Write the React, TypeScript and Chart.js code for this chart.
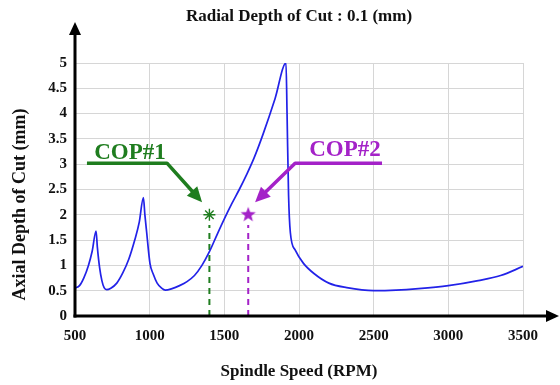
import React, { useEffect, useRef } from "react";
import { Chart, registerables } from "chart.js";
Chart.register(...registerables);

// ---- data ----
const spindleRpm = [
  500, 530, 560, 590, 615, 641, 650, 665, 680, 695, 712, 740, 780, 820, 860, 900, 930, 958,
  968, 980, 1002, 1025, 1050, 1080, 1105, 1150, 1200, 1250, 1300, 1350, 1400, 1450, 1500, 1550,
  1600, 1650, 1700, 1760, 1840, 1913, 1920, 1930, 1942, 1975, 2030, 2100, 2200, 2320, 2500,
  2650, 2800, 3000, 3200, 3350, 3500,
];
const axialDepth = [
  0.55, 0.6, 0.76, 1.0, 1.28, 1.68, 1.35, 0.95, 0.7, 0.56, 0.52, 0.55, 0.65, 0.85, 1.12, 1.5,
  1.85, 2.34, 2.0, 1.65, 1.04, 0.82, 0.65, 0.55, 0.51, 0.54, 0.6, 0.68, 0.8, 1.0, 1.27, 1.6,
  1.92, 2.22, 2.5, 2.8, 3.13, 3.6, 4.3, 5.0, 4.0, 2.4, 1.65, 1.3, 1.04, 0.84, 0.65, 0.56, 0.5,
  0.51, 0.54, 0.6, 0.7, 0.8, 0.98,
];
const xTickValues = [500, 1000, 1500, 2000, 2500, 3000, 3500];
const yTickValues = [0, 0.5, 1, 1.5, 2, 2.5, 3, 3.5, 4, 4.5, 5];

const cop1Point = { x: 1400, y: 2.0 };
const cop2Point = { x: 1660, y: 2.0 };
const cop1Dash = [{ x: 1400, y: 0 }, { x: 1400, y: 1.8 }];
const cop2Dash = [{ x: 1660, y: 0 }, { x: 1660, y: 1.8 }];

// annotation callouts in data units: label centre, elbow start, elbow, arrow tip
const cop1Callout = { text: "COP#1", label: [868, 3.22], start: [580, 3.02], elbow: [1116, 3.02], tip: [1351, 2.25] };
const cop2Callout = { text: "COP#2", label: [2308, 3.28], start: [2556, 3.02], elbow: [1974, 3.02], tip: [1706, 2.25] };

const BLUE = "#2222e8";
const GREEN = "#1f7d1f";
const PURPLE = "#a422c8";
const SERIF = "'Liberation Serif', 'DejaVu Serif', serif";

function makeStar(color: string, outer: number, inner: number): HTMLCanvasElement {
  const size = Math.ceil(outer * 2 + 2);
  const c = document.createElement("canvas");
  c.width = size;
  c.height = size;
  const g = c.getContext("2d")!;
  const cx = size / 2, cy = size / 2;
  g.beginPath();
  for (let i = 0; i < 10; i++) {
    const r = i % 2 === 0 ? outer : inner;
    const a = -Math.PI / 2 + (i * Math.PI) / 5;
    const px = cx + r * Math.cos(a), py = cy + r * Math.sin(a);
    if (i === 0) g.moveTo(px, py); else g.lineTo(px, py);
  }
  g.closePath();
  g.fillStyle = color;
  g.fill();
  return c;
}

function arrowHead(ctx: CanvasRenderingContext2D, fx: number, fy: number, tx: number, ty: number, len: number, half: number) {
  const a = Math.atan2(ty - fy, tx - fx);
  ctx.beginPath();
  ctx.moveTo(tx, ty);
  ctx.lineTo(tx - len * Math.cos(a) + half * Math.sin(a), ty - len * Math.sin(a) - half * Math.cos(a));
  ctx.lineTo(tx - len * Math.cos(a) - half * Math.sin(a), ty - len * Math.sin(a) + half * Math.cos(a));
  ctx.closePath();
  ctx.fill();
}

const decorPlugin = {
  id: "decor",
  afterDatasetsDraw(chart: any) {
    const ctx: CanvasRenderingContext2D = chart.ctx;
    const { left, right, top, bottom } = chart.chartArea;
    const xs = chart.scales.x, ys = chart.scales.y;
    ctx.save();
    // axes with arrows
    ctx.strokeStyle = "#000";
    ctx.fillStyle = "#000";
    ctx.lineWidth = 3;
    ctx.beginPath();
    ctx.moveTo(left, bottom + 1.5);
    ctx.lineTo(left, top - 30);
    ctx.stroke();
    arrowHead(ctx, left, bottom, left, top - 41, 13, 6);
    ctx.beginPath();
    ctx.moveTo(left - 1.5, bottom);
    ctx.lineTo(right + 26, bottom);
    ctx.stroke();
    arrowHead(ctx, left, bottom, right + 36, bottom, 13, 6);

    // callouts
    const callouts = [
      { c: cop1Callout, color: GREEN },
      { c: cop2Callout, color: PURPLE },
    ];
    for (const { c, color } of callouts) {
      const P = (p: number[]) => [xs.getPixelForValue(p[0]), ys.getPixelForValue(p[1])];
      const [sx, sy] = P(c.start);
      const [ex, ey] = P(c.elbow);
      const [tx, ty] = P(c.tip);
      const [lx, ly] = P(c.label);
      ctx.strokeStyle = color;
      ctx.fillStyle = color;
      ctx.lineWidth = 3.5;
      ctx.lineJoin = "round";
      const a = Math.atan2(ty - ey, tx - ex);
      ctx.beginPath();
      ctx.moveTo(sx, sy);
      ctx.lineTo(ex, ey);
      ctx.lineTo(tx - 10 * Math.cos(a), ty - 10 * Math.sin(a));
      ctx.stroke();
      arrowHead(ctx, ex, ey, tx, ty, 15, 7);
      ctx.font = `bold 23px ${SERIF}`;
      ctx.textAlign = "center";
      ctx.textBaseline = "middle";
      ctx.fillText(c.text, lx, ly);
    }

    // title
    ctx.fillStyle = "#111";
    ctx.font = `bold 17px ${SERIF}`;
    ctx.textAlign = "center";
    ctx.textBaseline = "middle";
    ctx.fillText("Radial Depth of Cut : 0.1 (mm)", (left + right) / 2, 17);

    // y axis title
    ctx.save();
    ctx.translate(20, (top + bottom) / 2 + 15);
    ctx.rotate(-Math.PI / 2);
    ctx.font = `bold 18px ${SERIF}`;
    ctx.fillText("Axial Depth of Cut (mm)", 0, 0);
    ctx.restore();
    ctx.restore();
  },
};

export default function App() {
  const ref = useRef<HTMLCanvasElement | null>(null);
  useEffect(() => {
    document.body.style.margin = "0";
    const canvas = ref.current!;
    const starImg = makeStar(PURPLE, 8, 3.3);
    const chart = new Chart(canvas, {
      type: "line",
      data: {
        datasets: [
          {
            label: "Stability limit",
            data: spindleRpm.map((x, i) => ({ x, y: axialDepth[i] })),
            borderColor: BLUE,
            borderWidth: 1.7,
            pointRadius: 0,
            cubicInterpolationMode: "monotone",
            fill: false,
          },
          {
            label: "COP#1 line",
            data: cop1Dash,
            borderColor: GREEN,
            borderWidth: 2,
            borderDash: [6, 5],
            pointRadius: 0,
          },
          {
            label: "COP#2 line",
            data: cop2Dash,
            borderColor: PURPLE,
            borderWidth: 2,
            borderDash: [6, 5],
            pointRadius: 0,
          },
          {
            label: "COP#1",
            data: [cop1Point],
            showLine: false,
            pointStyle: "star",
            pointRadius: 6,
            borderColor: GREEN,
            borderWidth: 1.4,
          },
          {
            label: "COP#2",
            data: [cop2Point],
            showLine: false,
            pointStyle: starImg as any,
            pointRadius: 8,
          },
        ],
      },
      options: {
        animation: false,
        responsive: false,
        events: [],
        layout: { padding: { top: 63, right: 37, left: 0, bottom: 0 } },
        plugins: {
          legend: { display: false },
          tooltip: { enabled: false },
          title: { display: false },
        },
        scales: {
          x: {
            type: "linear",
            min: 500,
            max: 3500,
            afterBuildTicks: (s: any) => { s.ticks = xTickValues.map((v) => ({ value: v })); },
            afterFit: (s: any) => { s.height = 69; },
            ticks: {
              padding: 11,
              color: "#111",
              font: { family: SERIF, size: 15, weight: "bold" },
              maxRotation: 0,
              callback: (v: any) => String(v),
            },
            grid: { color: "#d6d6d6", lineWidth: 1, drawTicks: false },
            border: { display: false },
            title: {
              display: true,
              text: "Spindle Speed (RPM)",
              color: "#111",
              font: { family: SERIF, size: 17, weight: "bold" },
              padding: { top: 0, bottom: 3 },
            },
          },
          y: {
            type: "linear",
            min: 0,
            max: 5,
            afterBuildTicks: (s: any) => { s.ticks = yTickValues.map((v) => ({ value: v })); },
            afterFit: (s: any) => { s.width = 75; },
            ticks: {
              padding: 8,
              color: "#111",
              font: { family: SERIF, size: 15, weight: "bold" },
              callback: (v: any) => String(v),
            },
            grid: { color: "#d6d6d6", lineWidth: 1, drawTicks: false },
            border: { display: false },
            title: { display: false },
          },
        },
      },
      plugins: [decorPlugin],
    });
    return () => chart.destroy();
  }, []);
  return (
    <div style={{ width: 560, height: 385, background: "#fff" }}>
      <canvas ref={ref} width={560} height={385} />
    </div>
  );
}
